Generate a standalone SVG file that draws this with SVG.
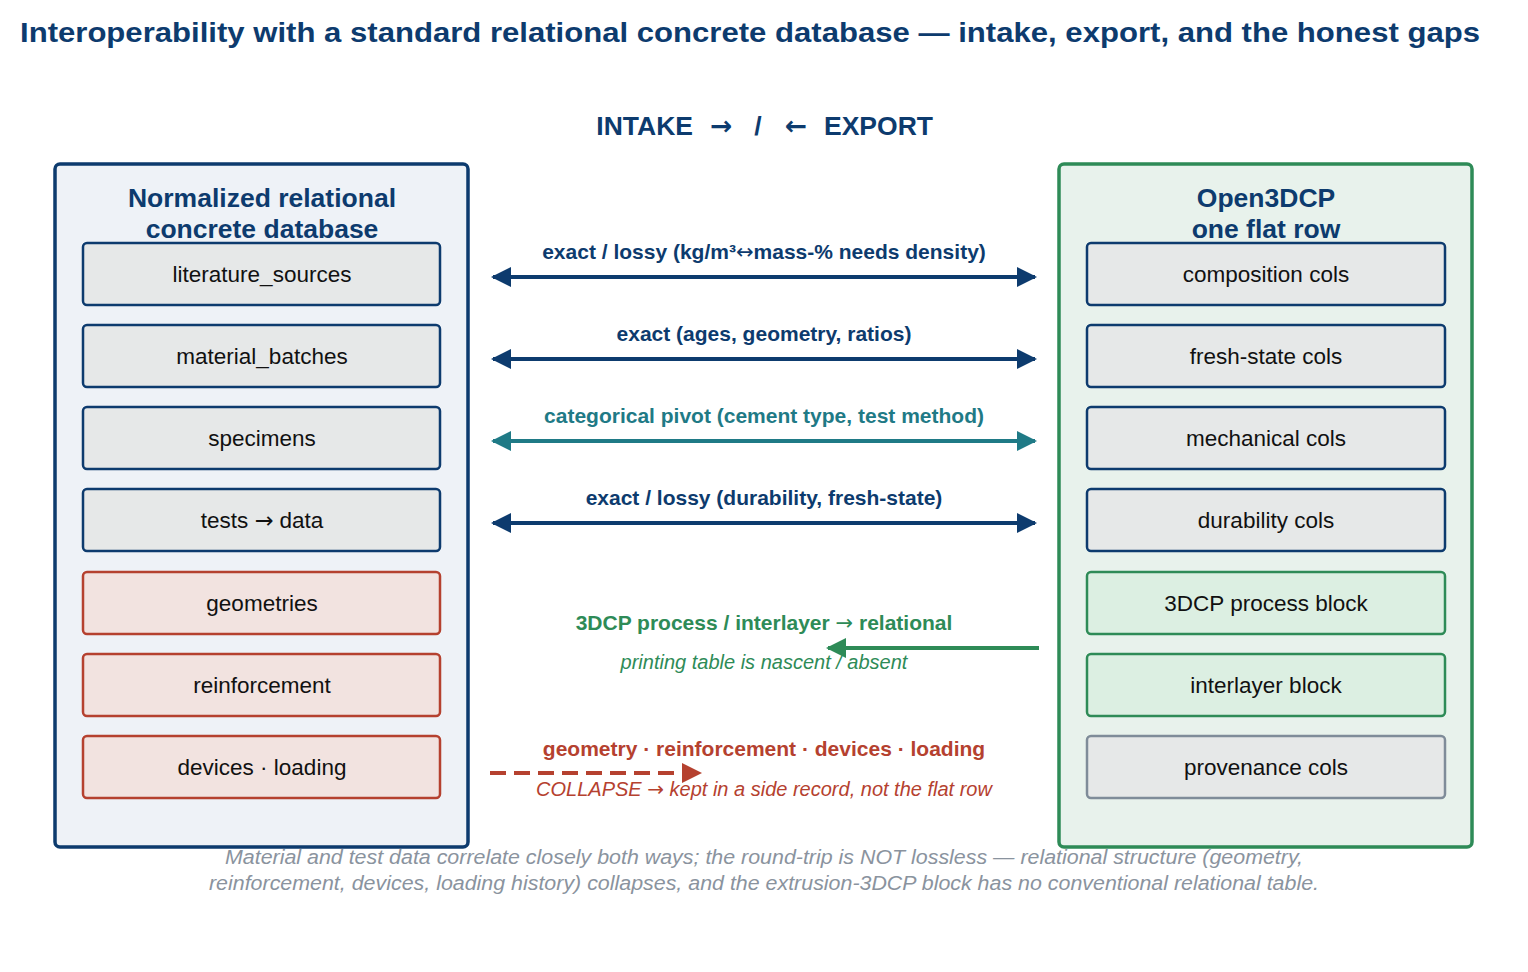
<svg xmlns="http://www.w3.org/2000/svg" width="1528" height="972" viewBox="0 0 1528 972">
<defs>
<style>
text{font-family:"Liberation Sans",Arial,sans-serif;text-anchor:middle}
.ar{font-family:"DejaVu Sans",sans-serif;font-weight:normal}
.title{font-size:28px;font-weight:bold;fill:#0d3b6e}
.sub{font-size:26.5px;font-weight:bold;fill:#0d3b6e}
.ptitle{font-size:26.5px;font-weight:bold;fill:#0d3b6e}
.box{font-size:22.5px;fill:#111}
.lbl{font-size:21px;font-weight:bold}
.it{font-size:20px;font-style:italic}
.foot{font-size:20px;font-style:italic;fill:#8a939e}
.nb{fill:#e6e8e8;stroke:#0d3b6e;stroke-width:2.5}
.nr{fill:#f2e3e0;stroke:#b5412f;stroke-width:2.5}
.ng{fill:#dcefe2;stroke:#2e8b57;stroke-width:2.5}
.ngr{fill:#e6e8e8;stroke:#7f8c99;stroke-width:2.5}
</style>
<marker id="ab" viewBox="0 0 10 10" refX="9" refY="5" markerWidth="22" markerHeight="20" markerUnits="userSpaceOnUse" orient="auto-start-reverse"><path d="M0,0 L10,5 L0,10 Z" fill="#0d3b6e"/></marker>
<marker id="at" viewBox="0 0 10 10" refX="9" refY="5" markerWidth="22" markerHeight="20" markerUnits="userSpaceOnUse" orient="auto-start-reverse"><path d="M0,0 L10,5 L0,10 Z" fill="#1f7a86"/></marker>
<marker id="ag" viewBox="0 0 10 10" refX="9" refY="5" markerWidth="22" markerHeight="20" markerUnits="userSpaceOnUse" orient="auto"><path d="M0,0 L10,5 L0,10 Z" fill="#2e8b57"/></marker>
<marker id="ar" viewBox="0 0 10 10" refX="9" refY="5" markerWidth="22" markerHeight="20" markerUnits="userSpaceOnUse" orient="auto"><path d="M0,0 L10,5 L0,10 Z" fill="#b5412f"/></marker>
</defs>
<rect width="1528" height="972" fill="#ffffff"/>
<text class="title" x="750" y="42" textLength="1460" lengthAdjust="spacingAndGlyphs">Interoperability with a standard relational concrete database — intake, export, and the honest gaps</text>
<g id="subtitle">
<text class="sub" x="693" y="135" style="text-anchor:end">INTAKE</text>
<text class="sub ar" x="721" y="135">→</text>
<text class="sub" x="758" y="135">/</text>
<text class="sub ar" x="796" y="135">←</text>
<text class="sub" x="824" y="135" style="text-anchor:start">EXPORT</text>
</g>

<g id="left-panel">
<rect x="55" y="164" width="413" height="683" rx="5" fill="#eef2f7" stroke="#0d3b6e" stroke-width="3.5"/>
<text class="ptitle" x="262" y="207">Normalized relational</text>
<text class="ptitle" x="262" y="238">concrete database</text>
</g>
<g id="literature_sources"><rect class="nb" x="83" y="243" width="357" height="62" rx="4"/><text class="box" x="262" y="282">literature_sources</text></g>
<g id="material_batches"><rect class="nb" x="83" y="325" width="357" height="62" rx="4"/><text class="box" x="262" y="364">material_batches</text></g>
<g id="specimens"><rect class="nb" x="83" y="407" width="357" height="62" rx="4"/><text class="box" x="262" y="446">specimens</text></g>
<g id="tests_data"><rect class="nb" x="83" y="489" width="357" height="62" rx="4"/><text class="box" x="262" y="528">tests <tspan class="ar">→</tspan> data</text></g>
<g id="geometries"><rect class="nr" x="83" y="572" width="357" height="62" rx="4"/><text class="box" x="262" y="611">geometries</text></g>
<g id="reinforcement"><rect class="nr" x="83" y="654" width="357" height="62" rx="4"/><text class="box" x="262" y="693">reinforcement</text></g>
<g id="devices_loading"><rect class="nr" x="83" y="736" width="357" height="62" rx="4"/><text class="box" x="262" y="775">devices · loading</text></g>

<g id="right-panel">
<rect x="1059" y="164" width="413" height="683" rx="5" fill="#e8f2ec" stroke="#2e8b57" stroke-width="3.5"/>
<text class="ptitle" x="1266" y="207">Open3DCP</text>
<text class="ptitle" x="1266" y="238">one flat row</text>
</g>
<g id="composition_cols"><rect class="nb" x="1087" y="243" width="358" height="62" rx="4"/><text class="box" x="1266" y="282">composition cols</text></g>
<g id="fresh_state_cols"><rect class="nb" x="1087" y="325" width="358" height="62" rx="4"/><text class="box" x="1266" y="364">fresh-state cols</text></g>
<g id="mechanical_cols"><rect class="nb" x="1087" y="407" width="358" height="62" rx="4"/><text class="box" x="1266" y="446">mechanical cols</text></g>
<g id="durability_cols"><rect class="nb" x="1087" y="489" width="358" height="62" rx="4"/><text class="box" x="1266" y="528">durability cols</text></g>
<g id="process_block"><rect class="ng" x="1087" y="572" width="358" height="62" rx="4"/><text class="box" x="1266" y="611">3DCP process block</text></g>
<g id="interlayer_block"><rect class="ng" x="1087" y="654" width="358" height="62" rx="4"/><text class="box" x="1266" y="693">interlayer block</text></g>
<g id="provenance_cols"><rect class="ngr" x="1087" y="736" width="358" height="62" rx="4"/><text class="box" x="1266" y="775">provenance cols</text></g>

<g id="connectors">
<line x1="493" y1="277" x2="1035" y2="277" stroke="#0d3b6e" stroke-width="4" marker-start="url(#ab)" marker-end="url(#ab)"/>
<text class="lbl" x="764" y="259" fill="#0d3b6e">exact / lossy (kg/m³<tspan class="ar">↔</tspan>mass-% needs density)</text>
<line x1="493" y1="359" x2="1035" y2="359" stroke="#0d3b6e" stroke-width="4" marker-start="url(#ab)" marker-end="url(#ab)"/>
<text class="lbl" x="764" y="341" fill="#0d3b6e">exact (ages, geometry, ratios)</text>
<line x1="493" y1="441" x2="1035" y2="441" stroke="#1f7a86" stroke-width="4" marker-start="url(#at)" marker-end="url(#at)"/>
<text class="lbl" x="764" y="423" fill="#1f7a86">categorical pivot (cement type, test method)</text>
<line x1="493" y1="523" x2="1035" y2="523" stroke="#0d3b6e" stroke-width="4" marker-start="url(#ab)" marker-end="url(#ab)"/>
<text class="lbl" x="764" y="505" fill="#0d3b6e">exact / lossy (durability, fresh-state)</text>

<line x1="1039" y1="648" x2="828" y2="648" stroke="#2e8b57" stroke-width="4" marker-end="url(#ag)"/>
<text class="lbl" x="764" y="630" fill="#2e8b57">3DCP process / interlayer <tspan class="ar">→</tspan> relational</text>
<text class="it" x="764" y="669" fill="#2e8b57">printing table is nascent / absent</text>

<line x1="490" y1="773" x2="700" y2="773" stroke="#b5412f" stroke-width="4" stroke-dasharray="16,8" marker-end="url(#ar)"/>
<text class="lbl" x="764" y="756" fill="#b5412f">geometry · reinforcement · devices · loading</text>
<text class="it" x="764" y="796" fill="#b5412f">COLLAPSE <tspan class="ar">→</tspan> kept in a side record, not the flat row</text>
</g>

<text class="foot" x="764" y="864" textLength="1078" lengthAdjust="spacingAndGlyphs">Material and test data correlate closely both ways; the round-trip is NOT lossless — relational structure (geometry,</text>
<text class="foot" x="764" y="890" textLength="1110" lengthAdjust="spacingAndGlyphs">reinforcement, devices, loading history) collapses, and the extrusion-3DCP block has no conventional relational table.</text>
</svg>
